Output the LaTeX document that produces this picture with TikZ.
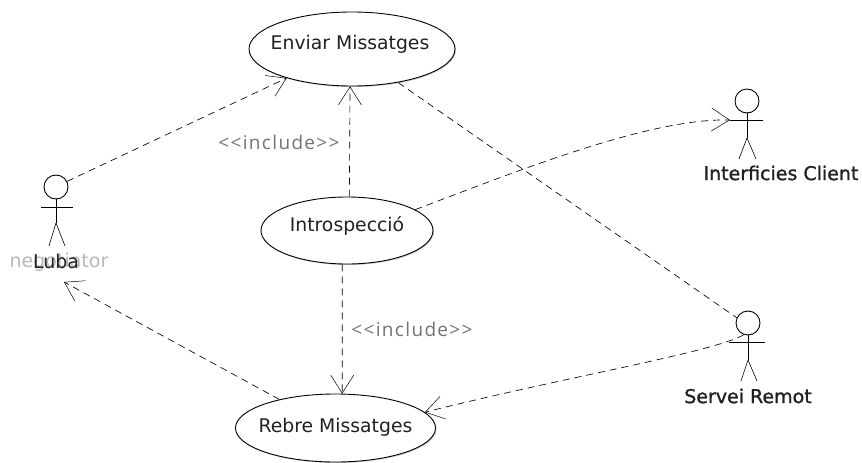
\documentclass[tikz,border=0pt]{standalone}
\usepackage{fontspec}
\setmainfont{DejaVu Sans}
\newfontfamily\incfont[LetterSpace=7]{Open Sans}
\newfontfamily\actfont[FakeBold=1.2]{DejaVu Sans}
\usetikzlibrary{shapes.geometric,arrows.meta,shadows}
\definecolor{inkc}{gray}{0.13}
\newcommand{\uctext}[2]{\smash{\raisebox{#1}{\makebox[0pt]{#2}}}}
\tikzset{
  usecase/.style={ellipse,draw=black,line width=0.9pt,fill=white,inner sep=0pt,text=inkc,font=\fontsize{18.8}{20}\selectfont,
    general shadow={shadow xshift=1pt,shadow yshift=-1pt,opacity=.35,fill=black!60}},
  head/.style={circle,draw=black,line width=0.9pt,fill=white,inner sep=0pt,minimum size=24pt},
  limb/.style={draw=black,line width=0.9pt},
  thinlimb/.style={draw=black,line width=0.6pt},
  actname/.style={text=inkc,inner sep=0pt,font=\fontsize{19}{20}\actfont},
  ghost/.style={text=black!28,inner sep=0pt,font=\fontsize{19}{20}\selectfont},
  stereo/.style={text=black!55,inner sep=0pt,font=\fontsize{19}{20}\incfont},
  dep/.style={draw=black,line width=0.65pt,dash pattern=on 7pt off 5pt},
  depa/.style={dep,-{Straight Barb[length=18pt,width=23pt,line width=0.5pt]}}
}
\begin{document}
\begin{tikzpicture}[x=1pt,y=-1pt]
\useasboundingbox (0,0) rectangle (862,463);
% use cases
\node[usecase,minimum width=206pt,minimum height=74pt] (enviar) at (352,49) {\uctext{0pt}{\hspace{-4pt}Enviar Missatges}};
\node[usecase,minimum width=172pt,minimum height=67pt] (intro) at (347,230.5) {\uctext{-1pt}{Introspecció}};
\node[usecase,minimum width=200pt,minimum height=68pt] (rebre) at (335.5,428) {\uctext{-4pt}{Rebre Missatges}};
% actor Luba
\node[head] (luba) at (56,187) {};
\coordinate (lubahip) at (56,223);
\draw[limb] (luba.south) -- (lubahip);
\draw[limb] (41,207) -- (73,207);
\draw[thinlimb] (lubahip) -- (49,246);
\draw[thinlimb] (lubahip) -- (65,246);
\node[ghost] (ghostname) at (59,262) {negotiator};
\node[actname,font=\fontsize{19}{20}\selectfont] (lubaname) at (56,261) {Luba};
\coordinate (lubatip) at (64,282);
% actor Interficies
\node[head] (client) at (747,101) {};
\coordinate (clientarm) at (730,120);
\draw[limb] (client.south) -- (747,138);
\draw[limb] (clientarm) -- (763,120);
\draw[thinlimb] (747,138) -- (739,159);
\draw[thinlimb] (747,138) -- (756,159);
\node[actname] (clientname) at (781,173) {Interficies Client};
% actor Servei
\node[head] (servei) at (748,323) {};
\draw[limb] (servei.south) -- (748,360);
\draw[limb] (729,342) -- (765,342);
\draw[thinlimb] (748,360) -- (741,381);
\draw[thinlimb] (748,360) -- (757,381);
\node[actname] (serveiname) at (748,396) {Servei Remot};
% connectors
\draw[depa] (luba.27) -- (enviar.204);
\draw[depa] (intro.86.6) -- (enviar.-93);
\draw[depa] (intro.17.5) .. controls (520,170) and (650,118) .. (clientarm);
\draw[depa] (intro.-98.5) -- (rebre.79);
\draw[dep] (enviar.-36) -- (servei.155);
\draw[depa] (servei.250) .. controls (715,352) and (560,378) .. (rebre.10.4);
\draw[depa] (rebre.153) -- (lubatip);
% labels
\node[stereo] (inca) at (279,142) {<{}<include>{}>};
\node[stereo] (incb) at (412,329) {<{}<include>{}>};
\end{tikzpicture}
\end{document}
